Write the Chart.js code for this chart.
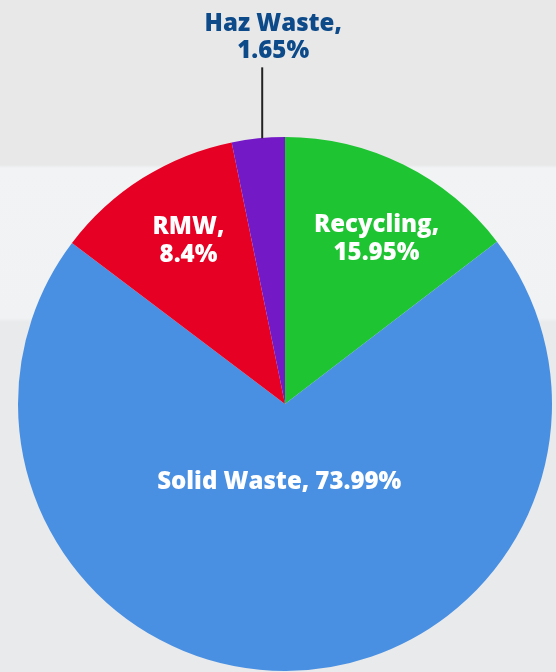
<!DOCTYPE html>
<html>
<head>
<meta charset="utf-8">
<script src="https://cdn.jsdelivr.net/npm/chart.js@4"></script>
<style>
  html, body { margin: 0; padding: 0; }
  body {
    width: 556px; height: 672px; overflow: hidden;
    background: linear-gradient(to bottom, #e8e8e8 0px, #e8e8e8 165px, #f1f3f5 168px, #f0f2f4 318px, #e9eaeb 322px, #e9eaeb 672px);
  }
  #wrap { position: relative; width: 556px; height: 672px; }
</style>
</head>
<body>
<div id="wrap"><canvas id="wastePie"></canvas></div>
<script>
// slices in drawing order, clockwise from 12 o'clock
var categories = ["Recycling", "Solid Waste", "RMW", "Haz Waste"];
// slice sizes as drawn in the picture (percent of circle)
var drawnValues = [14.6, 70.7, 11.5, 3.2];
// the percentages printed on the labels
var labelValues = ["15.95%", "73.99%", "8.4%", "1.65%"];
var sliceColors = ["#1ec431", "#4a90e2", "#e60023", "#7319c6"];

var FONT = "'Open Sans', sans-serif";

// where each label sits: fraction of radius from the centre (plus a nudge), or outside with a leader line
var labelSetup = [
    { r: 0.74, dx: 4, dy: 12, lines: ["Recycling,", labelValues[0]], color: "#ffffff" },
    { r: 0.29, dx: -6, dy: 1, lines: ["Solid Waste, " + labelValues[1]], color: "#ffffff" },
    { r: 0.72, dx: 6, dy: 0, lines: ["RMW,", labelValues[2]], color: "#ffffff" },
    { outside: true, dx: 4, lines: ["Haz Waste,", labelValues[3]], color: "#0d4a8a" }
];

var sliceLabels = {
    id: "sliceLabels",
    afterDatasetsDraw: function (chart) {
        var c = chart.ctx;
        var arcs = chart.getDatasetMeta(0).data;
        c.save();
        c.font = "800 24px " + FONT;
        c.textAlign = "center";
        c.textBaseline = "middle";
        arcs.forEach(function (arc, i) {
            var s = labelSetup[i];
            var mid = (arc.startAngle + arc.endAngle) / 2;
            var lh = 28;
            if (s.outside) {
                var x = arc.x + Math.cos(mid) * arc.outerRadius + s.dx;
                var y = arc.y + Math.sin(mid) * arc.outerRadius;
                c.strokeStyle = "#222222";
                c.lineWidth = 2;
                c.beginPath();
                c.moveTo(x, y);
                c.lineTo(x, y - 71);
                c.stroke();
                c.fillStyle = s.color;
                var ty = 24;
                s.lines.forEach(function (t, k) {
                    c.fillText(t, x + 11, ty + k * 27);
                });
            } else {
                var cx = arc.x + Math.cos(mid) * arc.outerRadius * s.r + s.dx;
                var cy = arc.y + Math.sin(mid) * arc.outerRadius * s.r + s.dy;
                c.fillStyle = s.color;
                var start = cy - (s.lines.length - 1) * lh / 2;
                s.lines.forEach(function (t, k) {
                    c.fillText(t, cx, start + k * lh);
                });
            }
        });
        c.restore();
    }
};

var ctx = document.getElementById("wastePie").getContext("2d");

var myPie = new Chart(ctx, {
    type: "pie",
    data: {
        labels: categories,
        datasets: [
            {
                data: drawnValues,
                backgroundColor: sliceColors,
                borderWidth: 0
            }
        ]
    },
    options: {
        responsive: true,
        maintainAspectRatio: false,
        animation: false,
        layout: { padding: { left: 18, right: 4, top: 137, bottom: 1 } },
        plugins: {
            legend: { display: false },
            tooltip: { enabled: false }
        }
    },
    plugins: [sliceLabels]
});
</script>
</body>
</html>
